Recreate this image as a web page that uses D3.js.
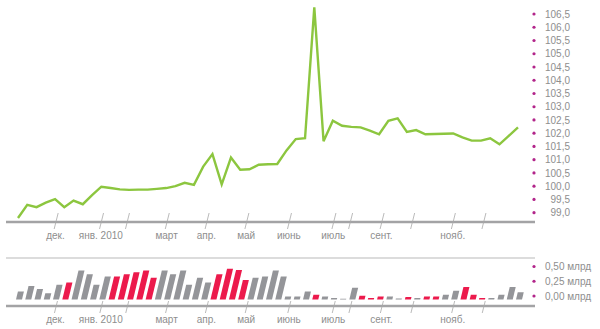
<!DOCTYPE html>
<html><head><meta charset="utf-8">
<script src="https://cdn.jsdelivr.net/npm/d3@7"></script>
<style>
body{margin:0;background:#fff;}
text{font-family:"Liberation Sans",Arial,sans-serif;font-size:10px;fill:#8e8e8e;}
</style></head>
<body><svg id="c" width="600" height="329"></svg>
<script>
// ---- data ----
const priceValues = [98.80,99.30,99.21,99.38,99.51,99.21,99.46,99.32,99.66,99.98,
  99.93,99.88,99.86,99.87,99.87,99.90,99.93,100.00,100.13,100.05,
  100.74,101.21,100.07,101.08,100.62,100.64,100.81,100.83,100.84,101.35,
  101.78,101.81,106.75,101.70,102.47,102.28,102.24,102.22,102.10,101.96,
  102.47,102.56,102.05,102.12,101.96,101.97,101.98,101.99,101.84,101.72,
  101.72,101.81,101.58,101.90,102.22];
const volumeValues = [0.135,0.23,0.18,0.107,0.25,0.29,0.49,0.43,0.25,0.39,
  0.39,0.43,0.46,0.49,0.37,0.49,0.43,0.49,0.25,0.37,
  0.29,0.43,0.52,0.50,0.33,0.37,0.39,0.49,0.39,0.05,
  0.05,0.135,0.08,0.05,0.025,0.013,0.20,0.063,0.025,0.05,
  0.05,0.017,0.042,0.025,0.05,0.05,0.08,0.15,0.21,0.08,
  0.025,0.025,0.08,0.21,0.125];
// 1 = red (highlighted), 0 = grey
const volumeFlag = [0,0,0,0,0,1,0,0,0,0,
  1,1,1,1,1,0,0,0,0,0,
  0,1,1,1,1,0,0,0,0,0,
  0,0,1,0,0,0,0,1,1,1,
  0,0,1,0,1,1,0,0,1,1,
  1,0,0,0,0];
const monthTickIndex = [4.1,9,11.8,16.1,20.4,24.7,29.3,34.1,35.9,39.3,42.6,47,50.3];
const monthLabels = ["дек.","янв. 2010","","март","апр.","май","июнь","июль","","сент.","","нояб.",""];
const priceTicks = [99.0,99.5,100.0,100.5,101.0,101.5,102.0,102.5,103.0,103.5,104.0,104.5,105.0,105.5,106.0,106.5];
const volumeTicks = [0,0.25,0.5];

// ---- chart ----
const svg = d3.select("#c");
const x = d3.scaleLinear().domain([0, priceValues.length-1]).range([18, 518]);
const y = d3.scaleLinear().domain([99, 106.5]).range([212.7, 14]);
const yv = d3.scaleLinear().domain([0, 0.5]).range([299.5, 270]);
const green = "#8cc63f", red = "#ec1a4c", grey = "#949599", dotC = "#b2258a";
const fmt = v => d3.format(".1f")(v).replace(".", ",");
const fmt2 = v => d3.format(".2f")(v).replace(".", ",") + " млрд";

// top baseline
svg.append("line").attr("x1",6).attr("x2",535).attr("y1",222).attr("y2",222)
  .attr("stroke","#a3a3a5").attr("stroke-width",2.5);
// lower panel top line & baseline
svg.append("line").attr("x1",6).attr("x2",535).attr("y1",258).attr("y2",258)
  .attr("stroke","#dcdcdc").attr("stroke-width",2);

// bars (slanted)
const slant = 0.24, bw = 6;
svg.append("g").selectAll("path").data(volumeValues).join("path")
  .attr("d",(d,i)=>{
    const cx = x(i)+1, y0 = yv(0), y1 = yv(d), h = y0-y1;
    const s = h*slant;
    return `M${cx-bw/2},${y0}L${cx+bw/2},${y0}L${cx+bw/2+s},${y1}L${cx-bw/2+s},${y1}Z`;
  })
  .attr("fill",(d,i)=>volumeFlag[i]?red:grey);

svg.append("line").attr("x1",6).attr("x2",535).attr("y1",306).attr("y2",306)
  .attr("stroke","#a3a3a5").attr("stroke-width",2.5);

// month ticks top & bottom
const tg = svg.append("g");
monthTickIndex.forEach((t,i)=>{
  const xc = x(t);
  tg.append("line").attr("x1",xc+2.2).attr("y1",213).attr("x2",xc-1.8).attr("y2",229)
    .attr("stroke","#a8a8a8").attr("stroke-width",0.8);
  tg.append("line").attr("x1",xc+1.5).attr("y1",301).attr("x2",xc-1.5).attr("y2",313)
    .attr("stroke","#a8a8a8").attr("stroke-width",0.8);
  if (monthLabels[i]) {
    tg.append("text").attr("x",xc-0.5).attr("y",239).attr("text-anchor","middle").text(monthLabels[i]);
    tg.append("text").attr("x",xc-0.5).attr("y",323).attr("text-anchor","middle").text(monthLabels[i]);
  }
});

// line
svg.append("path").datum(priceValues)
  .attr("d", d3.line().x((d,i)=>x(i)).y(d=>y(d)))
  .attr("fill","none").attr("stroke",green).attr("stroke-width",2.4)
  .attr("stroke-linejoin","miter");

// right axis (price)
const ay = svg.append("g");
priceTicks.forEach(v=>{
  ay.append("circle").attr("cx",534).attr("cy",y(v)).attr("r",1.6).attr("fill",dotC);
  ay.append("text").attr("x",570).attr("y",y(v)).attr("dy","0.36em").attr("text-anchor","end").text(fmt(v));
});
// right axis (volume)
const av = svg.append("g").attr("transform","translate(0,-3.5)");
volumeTicks.forEach(v=>{
  av.append("circle").attr("cx",534).attr("cy",yv(v)).attr("r",1.6).attr("fill",dotC);
  av.append("text").attr("x",545).attr("y",yv(v)).attr("dy","0.36em").text(fmt2(v));
});
</script></body></html>
